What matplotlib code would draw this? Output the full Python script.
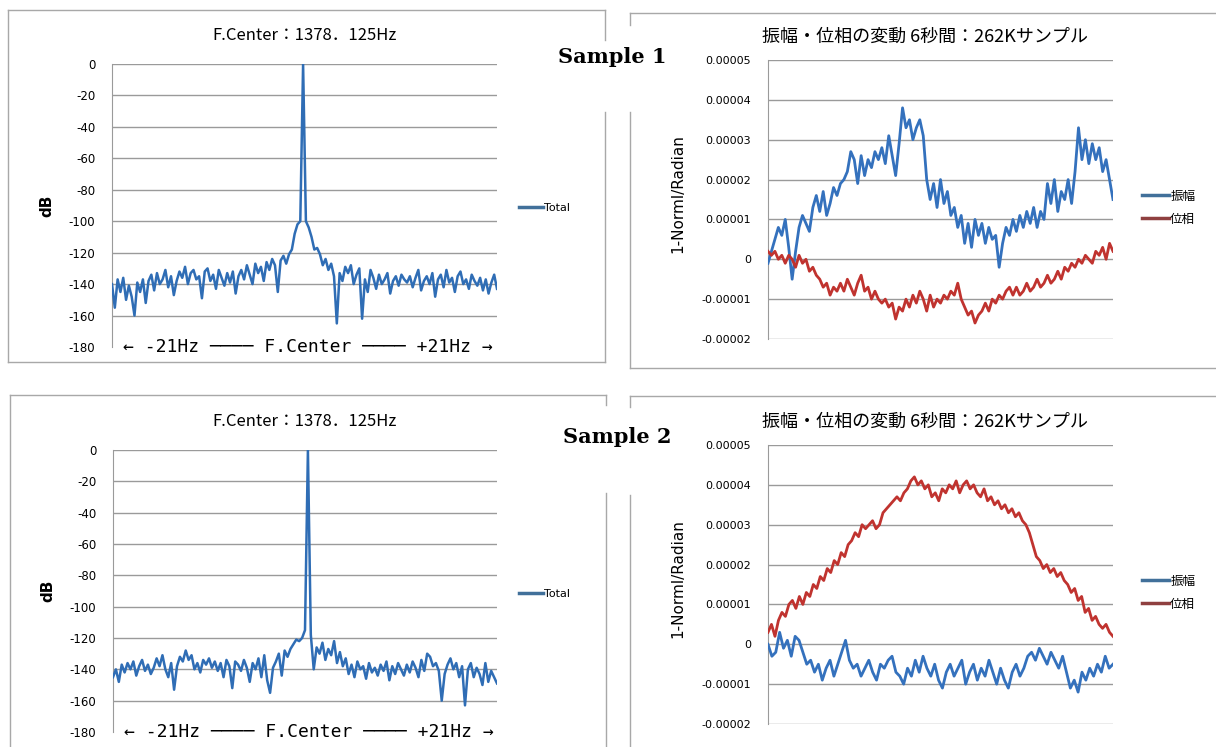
import numpy as np
import matplotlib
matplotlib.use('Agg')
import matplotlib.pyplot as plt
from matplotlib.lines import Line2D

plt.rcParams['font.family'] = ['DejaVu Sans', 'Noto Sans CJK JP']

W, H = 1216, 747

spec1 = [-140, -155, -137, -145, -136, -150, -141, -148, -160, -139,
         -145, -137, -152, -138, -134, -144, -133, -140, -137, -131,
         -142, -135, -147, -138, -132, -136, -129, -140, -133, -131,
         -137, -135, -149, -132, -130, -138, -134, -143, -131, -136,
         -141, -133, -139, -132, -146, -135, -131, -137, -128, -134,
         -140, -127, -133, -129, -138, -126, -131, -124, -128, -145,
         -125, -122, -127, -121,
         -118, -108, -102, -100, 0, -100, -104, -110, -118, -117, -121,
         -128, -124, -131, -127, -135, -165, -133, -138, -129, -133,
         -128, -140, -134, -130, -162, -137, -145, -131, -136, -143,
         -134, -140, -137, -133, -146, -138, -135, -141, -134, -137,
         -139, -135, -142, -136, -131, -144, -138, -135, -140, -133,
         -148, -137, -134, -142, -131, -139, -136, -145, -135, -132,
         -140, -137, -143, -134, -138, -141, -136, -144, -137, -146,
         -139, -134, -143]

# Spectrum, sample 2 (dB)
spec2 = [-145, -140, -148, -137, -142, -136, -140, -135, -144, -138,
         -134, -141, -137, -143, -139, -133, -138, -131, -140, -145,
         -136, -153, -138, -132, -135, -128, -134, -131, -140, -136,
         -142, -134, -137, -133, -139, -135, -141, -136, -145, -134,
         -138, -152, -135, -137, -141, -134, -139, -148, -136, -140,
         -133, -145, -131, -147, -155, -139, -135, -130, -144, -128,
         -132, -127, -124, -121, -122, -120,
         -115, 0, -118,
         -140, -126, -130, -123, -134, -127, -131, -122, -136, -129,
         -138, -133, -143, -137, -145, -135, -140, -138, -146, -136,
         -142, -139, -144, -137, -141, -135, -147, -138, -143, -136,
         -140, -144, -137, -142, -135, -139, -145, -134, -141, -130,
         -132, -138, -136, -141, -160, -143, -137, -133, -140, -136,
         -145, -138, -163, -140, -136, -145, -139, -143, -150, -136,
         -148, -141, -145, -149]

# Amplitude / phase drift over 6 s, in units of 1e-6
amp1 = [-1, 2, 5, 8, 6, 10, 3, -5, 2, 8, 11, 9, 7, 13, 16, 12, 17, 11, 14, 18,
        16, 19, 20, 22, 27, 25, 19, 26, 21, 25, 23, 27, 25, 28, 24, 31, 26, 21,
        29, 38, 33, 35, 30, 33, 35, 31, 20, 15, 19, 13, 20, 14, 17, 11, 13, 8,
        11, 4, 9, 3, 10, 6, 9, 4, 8, 5, 6, -2, 4, 8, 6, 10, 7, 11, 8, 12, 9,
        13, 8, 12, 10, 19, 14, 20, 12, 17, 15, 20, 14, 22, 33, 25, 30, 24, 29,
        25, 28, 22, 25, 20, 15]
phase1 = [2, 1, 2, 0, 1, -1, 1, 0, -2, 1, -1, 0, -3, -2, -4, -5, -7, -6, -9,
          -7, -8, -6, -8, -5, -7, -9, -6, -4, -8, -7, -10, -8, -10, -11, -10,
          -12, -11, -15, -12, -13, -10, -12, -9, -11, -8, -10, -13, -9, -12,
          -10, -11, -9, -10, -8, -9, -6, -10, -12, -14, -13, -16, -14, -13,
          -11, -13, -10, -11, -9, -10, -8, -7, -9, -7, -9, -8, -6, -8, -7, -5,
          -7, -6, -4, -6, -5, -3, -5, -2, -3, -1, -2, 0, -1, 1, 0, -1, 2, 1,
          3, 0, 4, 2]
amp2 = [0, -3, -2, 3, -1, 1, -3, 2, 1, -2, -5, -4, -7, -5, -9, -6, -4, -8, -5,
        -2, 1, -4, -6, -5, -8, -6, -4, -7, -9, -5, -6, -4, -3, -7, -8, -10, -6,
        -8, -4, -7, -3, -6, -8, -5, -9, -11, -7, -5, -8, -6, -4, -10, -7, -5,
        -9, -6, -8, -4, -7, -10, -6, -9, -11, -7, -5, -8, -6, -3, -2, -4, -1,
        -3, -5, -2, -4, -6, -3, -7, -11, -9, -12, -7, -9, -6, -8, -5, -7, -3,
        -6, -5]
phase2 = [3, 5, 2, 6, 8, 7, 10, 11, 9, 12, 10, 13, 12, 15, 14, 17, 16, 19, 18,
          21, 20, 23, 22, 25, 26, 28, 27, 30, 29, 30, 31, 29, 30, 33, 34, 35,
          36, 37, 36, 38, 39, 41, 42, 40, 41, 39, 40, 37, 38, 36, 39, 38, 40,
          39, 41, 38, 40, 41, 39, 40, 38, 37, 39, 36, 37, 35, 36, 34, 35, 33,
          34, 32, 33, 31, 30, 28, 25, 22, 21, 19, 20, 18, 19, 17, 18, 16, 15,
          13, 14, 11, 12, 8, 9, 6, 7, 5, 4, 5, 3, 2]

db_ticks = [0, -20, -40, -60, -80, -100, -120, -140, -160, -180]
wave_ticks = [5e-5, 4e-5, 3e-5, 2e-5, 1e-5, 0, -1e-5, -2e-5]
wave_labels = ['0.00005', '0.00004', '0.00003', '0.00002', '0.00001', '0',
               '-0.00001', '-0.00002']

spec_title = 'F.Center：1378．125Hz'
wave_title = '振幅・位相の変動 6秒間：262Kサンプル'

BLUE = '#2f6db5'
AMP = '#3471bd'
PHASE = '#c0332f'
GRID = '#9a9a9a'

fig = plt.figure(figsize=(W / 100, H / 100), dpi=100)


def px_axes(left, top, right, bottom):
    return fig.add_axes([left / W, 1 - bottom / H, (right - left) / W,
                         (bottom - top) / H])


def frame_line(x0, y0, x1, y1):
    fig.add_artist(Line2D([x0 / W, x1 / W], [1 - y0 / H, 1 - y1 / H],
                          transform=fig.transFigure, color='#a8a8a8', lw=1))


def clean_axes(ax):
    for s in ['top', 'right', 'bottom']:
        ax.spines[s].set_visible(False)
    ax.spines['left'].set_color(GRID)
    ax.set_xticks([])
    ax.tick_params(axis='y', length=0, labelsize=8.5, pad=12)


def draw_spectrum(ax, values):
    x = np.arange(len(values))
    for g in db_ticks[:-1]:
        ax.axhline(g, color=GRID, lw=1, zorder=1)
    ax.plot(x, values, color=BLUE, lw=1.8, zorder=3)
    ax.set_xlim(0, len(values) - 1)
    ax.set_ylim(-180, 0)
    ax.set_yticks(db_ticks)
    ax.set_yticklabels([str(t) for t in db_ticks])
    clean_axes(ax)
    ax.set_ylabel('dB', fontsize=11, fontweight='bold')
    ax.yaxis.set_label_coords(-0.15, 0.5)
    ax.text(0.5, 1.102, spec_title, transform=ax.transAxes, ha='center',
            va='center', fontsize=12, family=['Noto Sans CJK JP'])
    ax.text(0.51, 0.0, '← -21Hz ──── F.Center ──── +21Hz →',
            transform=ax.transAxes, ha='center', va='center', fontsize=13,
            family='DejaVu Sans Mono', zorder=2,
            bbox=dict(fc='white', ec='none', pad=1))
    ax.legend(handles=[Line2D([], [], color='#41709a', lw=2.5)],
              labels=['Total'], loc='center left', frameon=False,
              bbox_to_anchor=(1.03, 0.49), fontsize=8, handlelength=2.2,
              handletextpad=0.1)


def draw_wave(ax, amp, phase):
    for g in wave_ticks:
        ax.axhline(g, color=GRID, lw=1, zorder=1)
    ax.plot(np.linspace(0, 6, len(amp)), np.array(amp) * 1e-6,
            color=AMP, lw=2.0, zorder=3)
    ax.plot(np.linspace(0, 6, len(phase)), np.array(phase) * 1e-6,
            color=PHASE, lw=2.0, zorder=4)
    ax.set_xlim(0, 6)
    ax.set_ylim(-2e-5, 5e-5)
    ax.set_yticks(wave_ticks)
    ax.set_yticklabels(wave_labels)
    clean_axes(ax)
    ax.tick_params(axis='y', labelsize=8)
    ax.set_ylabel('1-Norml/Radian', fontsize=11)
    ax.yaxis.set_label_coords(-0.24, 0.52)
    ax.text(0.455, 1.082, wave_title, transform=ax.transAxes, ha='center',
            va='center', fontsize=13, family=['Noto Sans CJK JP'])
    handles = [Line2D([], [], color='#41709a', lw=2.5),
               Line2D([], [], color='#8f4040', lw=2.5)]
    ax.legend(handles=handles, labels=['振幅', '位相'], loc='center left',
              frameon=False, bbox_to_anchor=(1.05, 0.47),
              handlelength=2.2, handletextpad=0.1, labelspacing=0.8,
              prop={'family': 'Noto Sans CJK JP', 'size': 9})


# frames around the four panels
frame_line(8, 10, 605, 10)
frame_line(8, 10, 8, 362)
frame_line(8, 362, 605, 362)
frame_line(605, 10, 605, 40)
frame_line(605, 112, 605, 362)
frame_line(630, 13, 1216, 13)
frame_line(630, 13, 630, 25)
frame_line(630, 112, 630, 368)
frame_line(630, 368, 1216, 368)
frame_line(10, 395, 606, 395)
frame_line(10, 395, 10, 747)
frame_line(606, 395, 606, 405)
frame_line(606, 493, 606, 747)
frame_line(630, 396, 1216, 396)
frame_line(630, 396, 630, 407)
frame_line(630, 495, 630, 747)

ax1 = px_axes(112, 64, 497, 347)
draw_spectrum(ax1, spec1)
ax2 = px_axes(768, 60, 1113, 339)
draw_wave(ax2, amp1, phase1)
ax3 = px_axes(113, 450, 497, 732)
draw_spectrum(ax3, spec2)
ax4 = px_axes(768, 445, 1113, 724)
draw_wave(ax4, amp2, phase2)

fig.text(612 / W, 1 - 57 / H, 'Sample 1', family='DejaVu Serif',
         fontweight='bold', fontsize=15, ha='center', va='center',
         bbox=dict(fc='white', ec='none', pad=2))
fig.text(617 / W, 1 - 437 / H, 'Sample 2', family='DejaVu Serif',
         fontweight='bold', fontsize=15, ha='center', va='center',
         bbox=dict(fc='white', ec='none', pad=2))

fig.savefig('out.png', dpi=100, facecolor='white')
